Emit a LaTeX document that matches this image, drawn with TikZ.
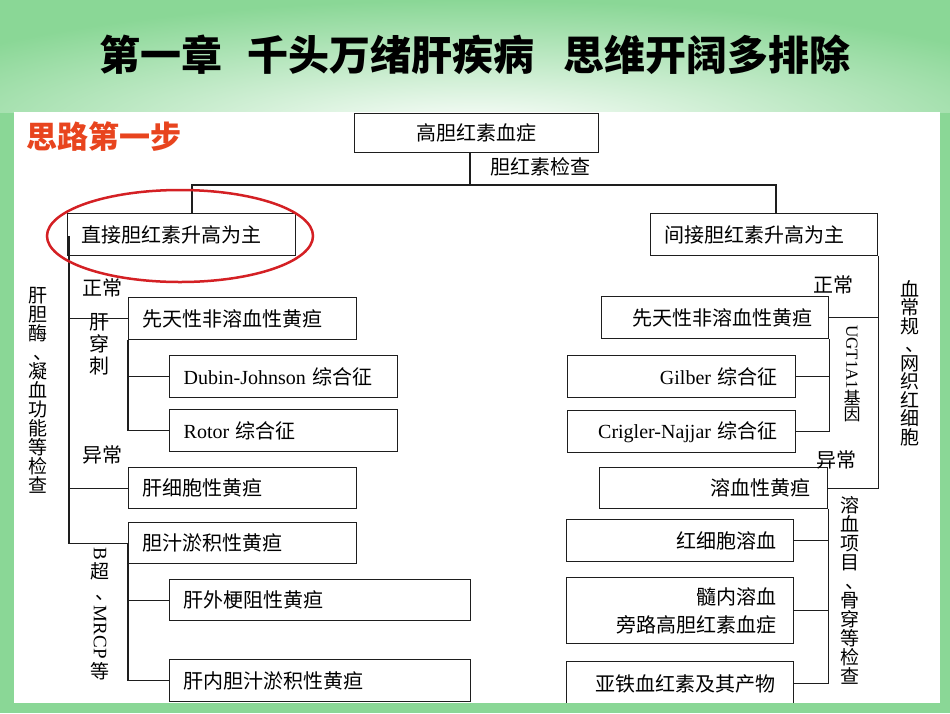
\documentclass[tikz,border=0pt]{standalone}
\usepackage{fontspec}
\usepackage{graphicx}
\setmainfont{Noto Sans CJK SC}
\newfontfamily\lat{Liberation Serif}
\definecolor{bgg}{RGB}{138,215,150}
\definecolor{lc}{RGB}{30,30,30}
\definecolor{redc}{RGB}{212,32,36}
\definecolor{redt}{RGB}{232,68,30}
\newcommand\vdun{\hspace{0.5em}、}
\begin{document}
\begin{tikzpicture}[x=1pt,y=-1pt,
  ln/.style={draw=lc, line width=1.4pt},
  bx/.style={draw=lc, line width=1.4pt, anchor=north west, inner ysep=0pt, font=\fontsize{20}{28}\selectfont},
  lf/.style={align=left, inner xsep=14pt},
  rgt/.style={align=right, inner xsep=#1},
  lbl/.style={font=\fontsize{20}{20}\selectfont, inner sep=0pt},
  vt/.style={font=\fontsize{19}{19}\selectfont, align=center, inner sep=0pt, anchor=north}]
\useasboundingbox (0,0) rectangle (950,713);
% background
\fill[bgg] (0,0) rectangle (950,713);
\begin{scope}
  \clip (0,0) rectangle (950,112);
  \shade[inner color=white, outer color=bgg] (475,130) ellipse [x radius=640, y radius=130];
\end{scope}
\fill[white] (14,112) rectangle (940,703);
% title
\node[font=\fontsize{41}{41}\selectfont\bfseries] (title) at (475,55) {第一章\hspace{25pt}千头万绪肝疾病\hspace{29pt}思维开阔多排除};
\node[font=\fontsize{31}{31}\selectfont\bfseries, text=redt, anchor=west, inner sep=0pt] (step) at (26,137) {思路第一步};
% boxes
\node[bx, align=center, inner xsep=10pt, text width=224pt, minimum height=39pt] (top) at (354,113) {高胆红素血症};
\node[bx, lf, text width=200pt, minimum height=42pt] (dl) at (67,213) {直接胆红素升高为主};
\node[bx, lf, text width=199pt, minimum height=42pt] (il) at (650,213) {间接胆红素升高为主};
\node[bx, lf, text width=200pt, minimum height=42pt] (L1) at (128,297) {先天性非溶血性黄疸};
\node[bx, lf, text width=200pt, minimum height=42pt] (L2) at (169,355) {{\lat Dubin-Johnson} 综合征};
\node[bx, lf, text width=200pt, minimum height=42pt] (L3) at (169,409) {{\lat Rotor} 综合征};
\node[bx, lf, text width=200pt, minimum height=41pt] (L4) at (128,467) {肝细胞性黄疸};
\node[bx, lf, text width=200pt, minimum height=41pt] (L5) at (128,522) {胆汁淤积性黄疸};
\node[bx, lf, text width=273pt, minimum height=41pt] (L6) at (169,579) {肝外梗阻性黄疸};
\node[bx, lf, text width=273pt, minimum height=42pt] (L7) at (169,659) {肝内胆汁淤积性黄疸};
\node[bx, rgt=16pt, text width=195pt, minimum height=42pt] (R1) at (601,296) {先天性非溶血性黄疸};
\node[bx, rgt=18pt, text width=192pt, minimum height=42pt] (R2) at (567,355) {{\lat Gilber} 综合征};
\node[bx, rgt=18pt, text width=192pt, minimum height=42pt] (R3) at (567,410) {{\lat Crigler-Najjar} 综合征};
\node[bx, rgt=17pt, text width=194pt, minimum height=41pt] (R4) at (599,467) {溶血性黄疸};
\node[bx, rgt=17pt, text width=193pt, minimum height=42pt] (R5) at (566,519) {红细胞溶血};
\node[bx, rgt=17pt, text width=193pt, minimum height=66pt] (R6) at (566,577) {髓内溶血\\旁路高胆红素血症};
\node[bx, rgt=18pt, text width=191pt, minimum height=44pt] (R7) at (566,661) {亚铁血红素及其产物};
% top connectors
\coordinate (jt) at (470,185);
\coordinate (jl) at (192,185);
\coordinate (jr) at (776,185);
\draw[ln] (jt |- top.south) -- (jt);
\draw[ln] (jl |- dl.north) -- (jl) -- (jr) -- (jr |- il.north);
% left trunk
\coordinate (lt) at (69,236);
\draw[ln] (lt) -- (lt |- L5.west) -- (L5.west);
\draw[ln] (lt |- L1.west) -- (L1.west);
\draw[ln] (lt |- L4.west) -- (L4.west);
\draw[ln] (L1.south west) -- (L1.south west |- L3.west) -- (L3.west);
\draw[ln] (L1.south west |- L2.west) -- (L2.west);
\draw[ln, line width=2.6pt] (L5.west) -- (L5.south west);
\draw[ln] (L5.south west) -- (L5.south west |- L7.west) -- (L7.west);
\draw[ln] (L5.south west |- L6.west) -- (L6.west);
% right trunk
\draw[ln] (il.south east) -- (il.south east |- R4.east) -- (R4.east);
\draw[ln] (il.south east |- R1.east) -- (R1.east);
\draw[ln] (R1.south east) -- (R1.south east |- R3.east) -- (R3.east);
\draw[ln] (R1.south east |- R2.east) -- (R2.east);
\draw[ln] (R4.south east) -- (R4.south east |- R7.east) -- (R7.east);
\draw[ln] (R4.south east |- R5.east) -- (R5.east);
\draw[ln] (R4.south east |- R6.east) -- (R6.east);
% labels
\node[lbl, anchor=west] (bk) at (490,167) {胆红素检查};
\node[lbl, anchor=west] (zc1) at (82,288) {正常};
\node[lbl, anchor=west] (yc1) at (82,455) {异常};
\node[lbl, anchor=east] (zc2) at (854,285) {正常};
\node[lbl, anchor=west] (yc2) at (816,460) {异常};
% vertical labels
\node[vt] (v1) at (38,287) {肝\\胆\\酶\\\vdun\\凝\\血\\功\\能\\等\\检\\查};
\node[vt, font=\fontsize{20}{22}\selectfont] (v2) at (99,313) {肝\\穿\\刺};
\node[vt] (v3) at (100,547) {\rotatebox[origin=c]{-90}{\lat B}\\超\\[2pt]\vdun\\[4pt]\rotatebox[origin=c]{-90}{\lat MRCP}\\[3pt]等};
\node[vt, font=\fontsize{19}{18.5}\selectfont] (v4) at (910,280) {血\\常\\规\\\vdun\\网\\织\\红\\细\\胞};
\node[vt, font=\fontsize{17}{16}\selectfont] (v5) at (852,325) {\rotatebox[origin=c]{-90}{\lat UGT1A1}\\基\\因};
\node[vt] (v6) at (850,496) {溶\\血\\项\\目\\\vdun\\骨\\穿\\等\\检\\查};
% red ellipse
\draw[redc, line width=2.5pt] (180,236) ellipse [x radius=133, y radius=46];
% bottom band
\fill[bgg] (0,703) rectangle (950,713);
\end{tikzpicture}
\end{document}
